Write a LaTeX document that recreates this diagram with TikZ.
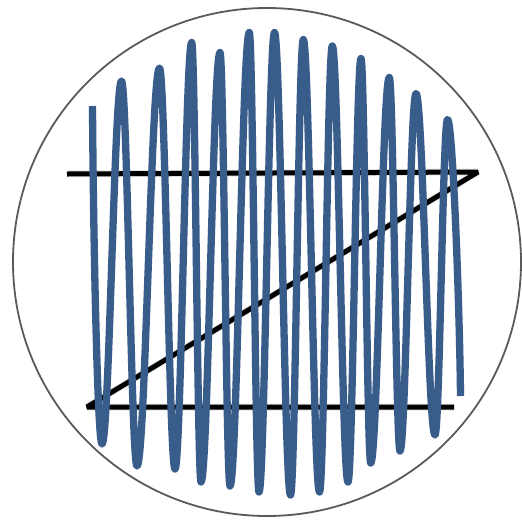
\documentclass[tikz,border=0pt]{standalone}
\usetikzlibrary{calc}
\definecolor{wave}{RGB}{57,93,139}
\definecolor{ring}{RGB}{90,90,90}
\tikzset{
  zline/.style={line width=5pt, black, line cap=butt, line join=bevel},
  zshadow/.style={line width=7pt, black, opacity=0.10, line join=bevel},
  waveline/.style={line width=7.3pt, wave, line cap=butt, line join=round},
}
\begin{document}
\begin{tikzpicture}[x=1pt,y=-1pt]
\useasboundingbox (0,0) rectangle (522,520);
\fill[white] (0,0) rectangle (522,520);
% ring
\draw[ring, line width=1.8pt] (267,262) circle[radius=254];
% Z corners
\coordinate (tl) at (67,174);
\coordinate (tr) at (478,172);
\coordinate (bl) at (87,407);
\coordinate (br) at (454,407);
% shadow of Z
\begin{scope}[shift={(2,4)}]
\draw[zshadow] (tl) -- (tr) -- (bl) -- (br);
\draw[zshadow, line width=4pt, opacity=0.12] (tl) -- (tr) -- (bl) -- (br);
\end{scope}
\draw[zline] (tl) -- (tr) -- (bl) -- (br);
% wave
\draw[waveline]
 (92.5,106) .. controls (93.5,260) and +(-4,0) .. (102,444)
 .. controls +(7.1,0) and +(-7.1,0) .. (121.5,81)
 .. controls +(5.6,0) and +(-5.6,0) .. (137,466)
 .. controls +(8.2,0) and +(-8.2,0) .. (159.5,68)
 .. controls +(5.6,0) and +(-5.6,0) .. (175,469)
 .. controls +(6.1,0) and +(-6.1,0) .. (191.7,42.5)
 .. controls +(3.4,0) and +(-3.4,0) .. (201,482)
 .. controls +(6.9,0) and +(-6.9,0) .. (220,52.5)
 .. controls +(3.6,0) and +(-3.6,0) .. (230,486)
 .. controls +(7.0,0) and +(-7.0,0) .. (249.3,32.5)
 .. controls +(3.5,0) and +(-3.5,0) .. (259,492)
 .. controls +(5.6,0) and +(-5.6,0) .. (274.5,32.5)
 .. controls +(5.8,0) and +(-5.8,0) .. (290.5,495)
 .. controls +(4.7,0) and +(-4.7,0) .. (303.3,39.5)
 .. controls +(5.9,0) and +(-5.9,0) .. (319.5,492)
 .. controls +(4.7,0) and +(-4.7,0) .. (332.3,46)
 .. controls +(5.7,0) and +(-5.7,0) .. (348,482)
 .. controls +(4.7,0) and +(-4.7,0) .. (361,58.5)
 .. controls +(3.5,0) and +(-3.5,0) .. (370.7,463)
 .. controls +(6.8,0) and +(-6.8,0) .. (389.3,77.5)
 .. controls +(3.9,0) and +(-3.9,0) .. (400,451)
 .. controls +(5.8,0) and +(-5.8,0) .. (416,93.5)
 .. controls +(6.9,0) and +(-6.9,0) .. (435,435)
 .. controls +(4.6,0) and +(-4.6,0) .. (447.5,119.5)
 .. controls +(5,0) and (459.5,300) .. (460.5,396);
\end{tikzpicture}
\end{document}
